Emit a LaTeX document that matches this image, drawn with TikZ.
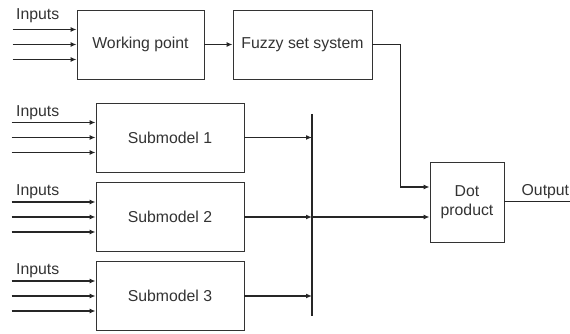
\documentclass[tikz,border=0pt]{standalone}
\usepackage{fontspec}
\setmainfont{Liberation Sans}
\usetikzlibrary{arrows.meta}

\tikzset{
  block/.style={draw=black!80, line width=0.9pt, fill=white, text=black!80, inner sep=0pt},
  lbl/.style={text=black!80, inner sep=0pt},
  wire/.style={draw=black!85, line width=1.2pt, -{Latex[length=6pt,width=5pt]}},
  inwire/.style={wire, line width=1.6pt},
}

\begin{document}
\begin{tikzpicture}[x=1pt,y=1pt,font=\fontsize{15.8}{19}\selectfont]
    \useasboundingbox (0,0) rectangle (570,334);
    % top row
    \node[block, minimum width=127pt, minimum height=69pt] (wp) at (140.5,289.5) {Working point};
    \node[block, minimum width=139pt, minimum height=69pt] (fuzzy) at (302.5,289.5) {Fuzzy set system};
    \node[lbl, anchor=base west] (inwp) at (16,314.5) {Inputs};
    \foreach \dy in {15,0,-15}
      \draw[inwire] ([xshift=-64pt,yshift=\dy pt]wp.west) -- ([yshift=\dy pt]wp.west);
    \draw[wire] (wp) -- (fuzzy);

    % collecting bus
    \coordinate (bustop) at (312,220);
    \coordinate (busbot) at (312,18);
    \draw[draw=black!85, line width=1.8pt] (bustop) -- (busbot);

    % submodels
    \foreach \i/\y in {1/196.5,2/117,3/38} {
      \node[block, minimum width=148pt, minimum height=69pt] (sub\i) at (170,\y) {Submodel \i};
      \node[lbl, anchor=base west] (in\i) at (16,{\y+21}) {Inputs};
      \foreach \dy in {15,0,-15}
        \draw[inwire] ([xshift=-84pt,yshift=\dy pt]sub\i.west) -- ([yshift=\dy pt]sub\i.west);
      \draw[wire] (sub\i.east) -- (sub\i.east -| bustop);
    }

    % output stage
    \node[block, minimum width=74pt, minimum height=80pt, align=center] (dot) at (467,132) {Dot\\product};
    \draw[wire] (sub2.east -| bustop) -- ([yshift=-15pt]dot.west);
    \draw[wire] (fuzzy.east) -- ++(28,0) |- ([yshift=15pt]dot.west);
    \coordinate (out) at (575,132);
    \draw[draw=black!85, line width=1pt] (dot.east) -- (out);
    \node[lbl, anchor=base west] (outlbl) at (521.5,138.5) {Output};
\end{tikzpicture}
\end{document}
